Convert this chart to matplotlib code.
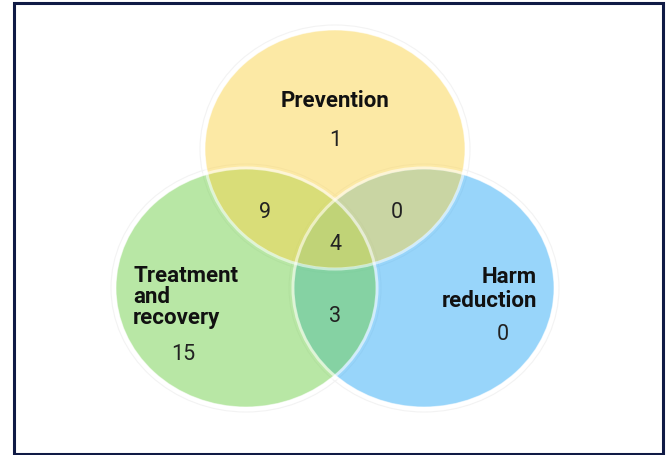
import matplotlib
matplotlib.use("Agg")
import matplotlib.pyplot as plt
from matplotlib.patches import Ellipse, Rectangle

# sets and region counts
SET_NAMES = ["Prevention", "Treatment\nand\nrecovery", "Harm\nreduction"]
SET_COLORS = ["#fbd54d", "#73d14d", "#33adf7"]   # drawn at alpha 0.5
REGION_NAMES = ["P", "T", "H", "PT", "PH", "TH", "PTH"]
REGION_COUNTS = [1, 15, 0, 9, 0, 3, 4]

fig = plt.figure(figsize=(6.69, 4.55), dpi=100)
ax = fig.add_axes([0, 0, 1, 1])
ax.set_xlim(0, 669)
ax.set_ylim(455, 0)
ax.axis("off")

# ellipse geometry in pixel space (the picture is a bit stretched horizontally)
centers = [(335, 149), (246, 288), (424, 288)]
rx, ry = 130, 119

# faint outer halo
for (cx, cy) in centers:
    ax.add_patch(Ellipse((cx, cy), 2 * rx + 10, 2 * ry + 10, facecolor="none",
                         edgecolor="#f3f3f3", lw=0.8, zorder=1))

# draw order: blue, green, yellow on top
order = [2, 1, 0]
for z, i in enumerate(order):
    cx, cy = centers[i]
    ax.add_patch(Ellipse((cx, cy), 2 * rx, 2 * ry, facecolor=SET_COLORS[i],
                         alpha=0.5, edgecolor="none", zorder=2 + z))
for i in order:
    cx, cy = centers[i]
    ax.add_patch(Ellipse((cx, cy), 2 * rx + 2, 2 * ry + 2, facecolor="none",
                         edgecolor="white", alpha=0.55, lw=2.2, zorder=6))

bold = dict(family=["Roboto", "DejaVu Sans"], fontweight="bold", fontsize=16,
            color="#111111", zorder=10)
num = dict(family=["Roboto", "DejaVu Sans"], fontsize=15.5, color="#222222",
           ha="center", va="center", zorder=10)

ax.text(335, 101, SET_NAMES[0], ha="center", va="center", **bold)
ax.text(133, 297, SET_NAMES[1], ha="left", va="center", linespacing=0.92, **bold)
ax.text(537, 289, SET_NAMES[2], ha="right", va="center", multialignment="right",
        linespacing=1.1, **bold)

num_pos = {"P": (335, 140), "T": (183, 355), "H": (503, 334), "PT": (265, 212),
           "PH": (397, 212), "TH": (335, 316), "PTH": (335, 245)}
for name, val in zip(REGION_NAMES, REGION_COUNTS):
    x, y = num_pos[name]
    ax.text(x, y, str(val), **num)

# frame
ax.add_patch(Rectangle((13.5, 2.5), 649.5, 451, facecolor="none",
                       edgecolor="#101a45", lw=2.2, zorder=12))

fig.savefig("out.png", dpi=100)
